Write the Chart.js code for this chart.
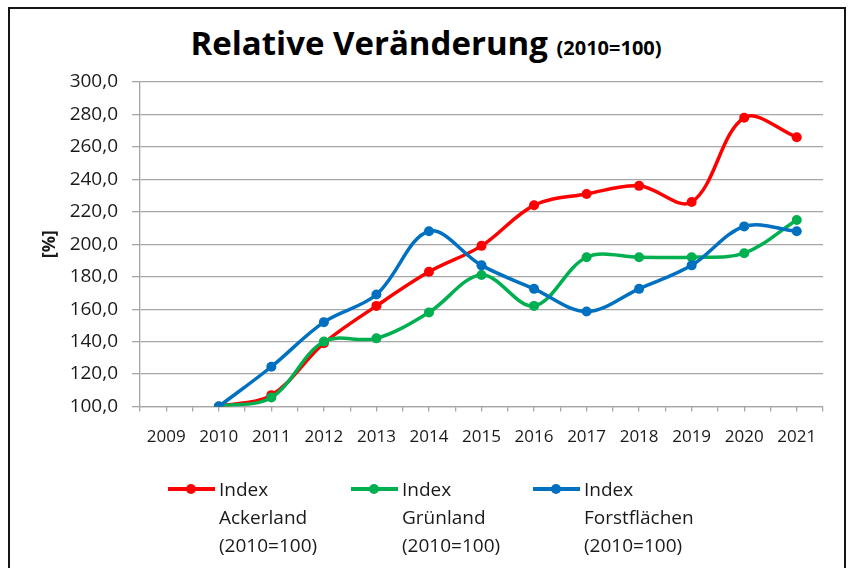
<!DOCTYPE html>
<html lang="de">
<head>
    <meta charset="UTF-8">
    <title>Relative Veränderung</title>
    <script src="https://cdn.jsdelivr.net/npm/chart.js"></script>
    <style>
        body {
            margin: 0;
            background: #fff;
            font-family: "Open Sans", sans-serif;
        }
        #wrap {
            position: relative;
            width: 848px;
            height: 568px;
            overflow: hidden;
        }
        #frame {
            position: absolute;
            left: 8px;
            top: 7px;
            width: 838px;
            height: 620px;
            box-sizing: border-box;
            border: 2px solid #151515;
        }
        #title {
            position: absolute;
            left: 0;
            top: 20px;
            width: 852px;
            text-align: center;
            font-size: 33px;
            font-weight: bold;
            line-height: normal;
            color: #000;
            white-space: nowrap;
        }
        #title span {
            font-size: 20px;
        }
        canvas {
            position: absolute;
            left: 0;
            top: 0;
        }
        .legend-item {
            position: absolute;
            top: 475px;
            font-size: 19px;
            line-height: 28px;
            color: #1a1a1a;
            padding-left: 51px;
        }
        .legend-item .swatch {
            position: absolute;
            left: 0;
            top: 12px;
            width: 47px;
            height: 4px;
        }
        .legend-item .swatch i {
            position: absolute;
            left: 18px;
            top: -3px;
            width: 10px;
            height: 10px;
            border-radius: 50%;
            background: inherit;
        }
    </style>
</head>
<body>
<div id="wrap">
    <div id="frame"></div>
    <div id="title">Relative Veränderung <span>(2010=100)</span></div>
    <canvas id="chart" width="848" height="568"></canvas>
    <div id="legend"></div>
</div>
<script>
    const years = ['2009', '2010', '2011', '2012', '2013', '2014', '2015', '2016', '2017', '2018', '2019', '2020', '2021'];
    const ackerland = [null, 100, 107, 139, 162, 183, 199, 224, 231, 236, 226, 278, 266];
    const gruenland = [null, 100, 105.5, 140, 142, 158, 181, 162, 192, 192, 192, 194.5, 215];
    const forst = [null, 100, 124.5, 152, 169, 208, 187, 172.5, 158.5, 172.5, 187, 211, 208];

    const seriesNames = [
        ['Index', 'Ackerland', '(2010=100)'],
        ['Index', 'Grünland', '(2010=100)'],
        ['Index', 'Forstflächen', '(2010=100)']
    ];
    const seriesColors = ['#ff0000', '#00b050', '#0070c0'];
    const legendX = [168, 351, 533];

    const gridColor = '#a6a6a6';
    const textColor = '#1a1a1a';

    function makeDataset(i, values, order) {
        return {
            label: seriesNames[i].join(' '),
            data: values,
            borderColor: seriesColors[i],
            backgroundColor: seriesColors[i],
            borderWidth: 3.5,
            pointRadius: 5,
            pointBorderWidth: 0,
            tension: 0.35,
            fill: false,
            order: order
        };
    }

    new Chart(document.getElementById('chart'), {
        type: 'line',
        data: {
            labels: years,
            datasets: [
                makeDataset(0, ackerland, 3),
                makeDataset(1, gruenland, 2),
                makeDataset(2, forst, 1)
            ]
        },
        options: {
            responsive: false,
            animation: false,
            layout: {
                padding: { top: 82, right: 25, bottom: 121.5, left: 35 }
            },
            plugins: {
                legend: { display: false },
                tooltip: { enabled: false },
                title: { display: false }
            },
            scales: {
                x: {
                    type: 'category',
                    offset: true,
                    weight: 0,
                    afterFit: (scale) => { scale.height = 40; },
                    grid: {
                        offset: true,
                        drawOnChartArea: false,
                        tickLength: 5,
                        color: gridColor,
                        lineWidth: 1.3
                    },
                    border: { display: true, color: gridColor, width: 1.3 },
                    ticks: {
                        padding: 15,
                        maxRotation: 0,
                        autoSkip: false,
                        color: textColor,
                        font: { family: 'Open Sans', size: 17 }
                    }
                },
                x2: {
                    type: 'category',
                    position: 'bottom',
                    offset: true,
                    weight: -1,
                    afterFit: (scale) => { scale.height = 0; },
                    grid: {
                        offset: false,
                        drawOnChartArea: false,
                        tickLength: 5,
                        color: gridColor,
                        lineWidth: 1.3
                    },
                    border: { display: false },
                    ticks: { display: false }
                },
                y: {
                    min: 100,
                    max: 300,
                    afterFit: (scale) => { scale.width = 105; },
                    ticks: {
                        stepSize: 20,
                        padding: 14,
                        color: textColor,
                        font: { family: 'Open Sans', size: 19 },
                        callback: (v) => v.toFixed(1).replace('.', ',')
                    },
                    grid: {
                        color: gridColor,
                        lineWidth: 1.3,
                        tickLength: 8
                    },
                    border: { display: true, color: gridColor, width: 1.3 },
                    title: {
                        display: true,
                        text: '[%]',
                        color: textColor,
                        font: { family: 'Open Sans', size: 18, weight: 'bold' }
                    }
                }
            }
        }
    });

    // legend with three-line labels
    const legend = document.getElementById('legend');
    seriesNames.forEach((lines, i) => {
        const item = document.createElement('div');
        item.className = 'legend-item';
        item.style.left = legendX[i] + 'px';
        item.innerHTML = `<span class="swatch" style="background:${seriesColors[i]}"><i></i></span>` + lines.join('<br>');
        legend.appendChild(item);
    });
</script>
</body>
</html>
